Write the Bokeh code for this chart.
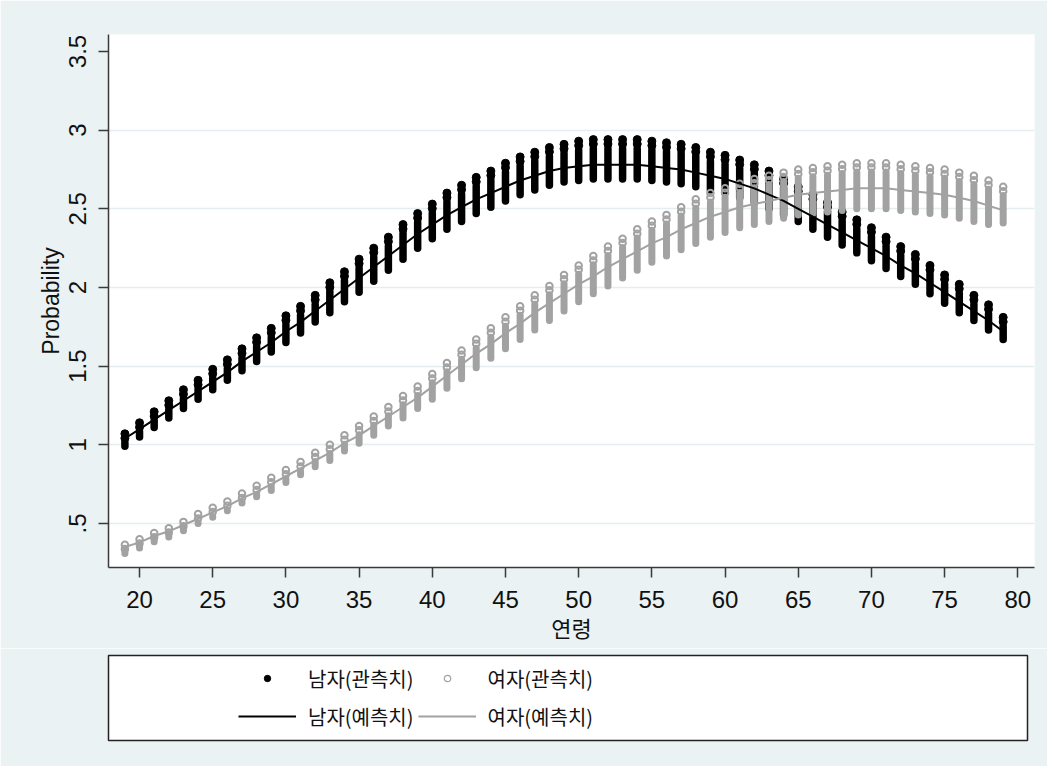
from bokeh.plotting import figure
from bokeh.models import Range1d, FixedTicker, ColumnDataSource, Legend, LegendItem
from bokeh.layouts import column
from bokeh.embed import file_html
from bokeh.resources import INLINE

# ---------------- data ----------------
ages = list(range(19, 80))

male_pred = [1.04, 1.10, 1.16, 1.22, 1.28, 1.34, 1.40, 1.46, 1.53, 1.59,
             1.65, 1.72, 1.78, 1.85, 1.92, 1.99, 2.06, 2.13, 2.20, 2.27,
             2.34, 2.40, 2.46, 2.51, 2.56, 2.60, 2.64, 2.68, 2.71, 2.74,
             2.76, 2.77, 2.78, 2.78, 2.78, 2.78, 2.77, 2.76, 2.75, 2.73,
             2.71, 2.69, 2.66, 2.63, 2.59, 2.55, 2.50, 2.45, 2.40, 2.35,
             2.30, 2.25, 2.20, 2.14, 2.09, 2.03, 1.97, 1.91, 1.85, 1.79, 1.72]
male_hi = [1.07, 1.14, 1.21, 1.28, 1.35, 1.41, 1.48, 1.54, 1.61, 1.68,
           1.74, 1.82, 1.88, 1.95, 2.03, 2.10, 2.18, 2.25, 2.32, 2.40,
           2.47, 2.53, 2.60, 2.65, 2.70, 2.74, 2.79, 2.83, 2.86, 2.89,
           2.91, 2.93, 2.94, 2.94, 2.94, 2.94, 2.93, 2.92, 2.91, 2.89,
           2.86, 2.84, 2.81, 2.78, 2.74, 2.69, 2.64, 2.59, 2.54, 2.48,
           2.43, 2.38, 2.32, 2.26, 2.21, 2.14, 2.08, 2.02, 1.95, 1.89, 1.81]
male_lo = [0.99, 1.05, 1.11, 1.17, 1.23, 1.29, 1.35, 1.41, 1.47, 1.53,
           1.59, 1.65, 1.71, 1.78, 1.84, 1.91, 1.97, 2.04, 2.11, 2.18,
           2.25, 2.31, 2.37, 2.42, 2.47, 2.51, 2.55, 2.59, 2.62, 2.65,
           2.67, 2.68, 2.69, 2.69, 2.69, 2.69, 2.68, 2.67, 2.66, 2.64,
           2.62, 2.60, 2.57, 2.54, 2.50, 2.46, 2.42, 2.37, 2.32, 2.27,
           2.22, 2.17, 2.12, 2.07, 2.02, 1.96, 1.90, 1.84, 1.79, 1.73, 1.67]

female_pred = [0.35, 0.38, 0.42, 0.45, 0.49, 0.53, 0.57, 0.61, 0.66, 0.70,
               0.75, 0.80, 0.85, 0.90, 0.95, 1.01, 1.06, 1.12, 1.18, 1.24,
               1.30, 1.37, 1.44, 1.51, 1.58, 1.64, 1.71, 1.77, 1.84, 1.90,
               1.96, 2.02, 2.07, 2.13, 2.18, 2.23, 2.28, 2.32, 2.37, 2.41,
               2.45, 2.48, 2.51, 2.53, 2.55, 2.57, 2.59, 2.60, 2.61, 2.62,
               2.63, 2.63, 2.63, 2.62, 2.61, 2.60, 2.59, 2.57, 2.55, 2.52, 2.49]
female_hi = [0.365, 0.40, 0.44, 0.47, 0.51, 0.56, 0.60, 0.64, 0.69, 0.74,
             0.79, 0.84, 0.89, 0.95, 1.00, 1.06, 1.12, 1.18, 1.24, 1.31,
             1.37, 1.45, 1.52, 1.60, 1.67, 1.74, 1.81, 1.88, 1.95, 2.01,
             2.08, 2.14, 2.20, 2.26, 2.31, 2.37, 2.42, 2.46, 2.51, 2.56,
             2.60, 2.63, 2.66, 2.69, 2.71, 2.73, 2.75, 2.76, 2.77, 2.78,
             2.79, 2.79, 2.79, 2.78, 2.77, 2.76, 2.75, 2.73, 2.71, 2.68, 2.64]
female_lo = [0.33, 0.36, 0.40, 0.43, 0.47, 0.50, 0.54, 0.58, 0.63, 0.67,
             0.71, 0.76, 0.81, 0.86, 0.90, 0.96, 1.01, 1.06, 1.12, 1.17,
             1.23, 1.29, 1.36, 1.42, 1.49, 1.55, 1.61, 1.67, 1.73, 1.79,
             1.85, 1.91, 1.96, 2.01, 2.06, 2.11, 2.16, 2.20, 2.24, 2.28,
             2.32, 2.35, 2.38, 2.40, 2.42, 2.44, 2.46, 2.47, 2.48, 2.49,
             2.50, 2.50, 2.50, 2.49, 2.48, 2.47, 2.46, 2.44, 2.42, 2.40, 2.41]

y_ticks = [0.5, 1.0, 1.5, 2.0, 2.5, 3.0, 3.5]
y_tick_labels = [".5", "1", "1.5", "2", "2.5", "3", "3.5"]
y_grid = [0.5, 1.0, 1.5, 2.0, 2.5, 3.0]
x_ticks = [20, 25, 30, 35, 40, 45, 50, 55, 60, 65, 70, 75, 80]

labels = ["남자(관측치)", "여자(관측치)", "남자(예측치)", "여자(예측치)"]
x_title = "연령"
y_title = "Probability"

# ---------------- styles ----------------
BG = "#EAF2F3"
GRID = "#E4EDEF"
GRAY = "#A2A2A2"
AXIS = "#3A3A3A"
LATIN = "Liberation Sans"
KR = "Noto Sans CJK KR"
STEP = 0.028  # spacing of the stacked markers drawn on top of each column

src = ColumnDataSource(dict(
    age=ages, mp=male_pred, mh=male_hi, ml=male_lo,
    fp=female_pred, fh=female_hi, fl=female_lo,
    mh2=[h - STEP for h in male_hi], ms=[h - 2 * STEP for h in male_hi],
    fh2=[h - STEP for h in female_hi], fs=[h - 2 * STEP for h in female_hi]))

p = figure(frame_width=926, frame_height=533,
           min_border_left=101, min_border_right=20,
           min_border_top=34, min_border_bottom=81,
           x_range=Range1d(17.88, 81.14), y_range=Range1d(0.22, 3.608),
           output_backend="svg", toolbar_location=None,
           background_fill_color="white", border_fill_color=BG)
p.outline_line_color = None
p.xgrid.visible = False
p.ygrid.ticker = FixedTicker(ticks=y_grid)
p.ygrid.grid_line_color = GRID
p.ygrid.grid_line_width = 1.5

for ax in (p.xaxis[0], p.yaxis[0]):
    ax.axis_line_color = AXIS
    ax.axis_line_width = 1.5
    ax.major_tick_line_color = AXIS
    ax.major_tick_line_width = 1.5
    ax.major_tick_out = 10
    ax.major_tick_in = 0
    ax.minor_tick_line_color = None
    ax.major_label_text_font = LATIN
    ax.major_label_text_font_size = "24px"
    ax.major_label_text_color = "#111111"
    ax.axis_label_text_font_style = "normal"
    ax.axis_label_text_color = "#111111"

p.xaxis.ticker = FixedTicker(ticks=x_ticks)
p.xaxis.major_label_standoff = 13
p.xaxis.axis_label = x_title
p.xaxis.axis_label_text_font = KR
p.xaxis.axis_label_text_font_size = "22px"
p.xaxis.axis_label_standoff = 0

p.yaxis.ticker = FixedTicker(ticks=y_ticks)
p.yaxis.major_label_overrides = {t: l for t, l in zip(y_ticks, y_tick_labels)}
p.yaxis.major_label_orientation = "vertical"
p.yaxis.major_label_standoff = 12
p.yaxis.axis_label = y_title
p.yaxis.axis_label_text_font = LATIN
p.yaxis.axis_label_text_font_size = "23px"
p.yaxis.axis_label_standoff = 3

# observed: men (filled black dots stacked into columns)
p.segment(x0="age", y0="ml", x1="age", y1="ms", source=src,
          line_color="black", line_width=7.5, line_cap="round")
p.scatter(x="age", y="mh", source=src, marker="circle", size=8,
          fill_color="black", line_color="black")
p.scatter(x="age", y="mh2", source=src, marker="circle", size=8,
          fill_color="black", line_color="black")
# observed: women (hollow gray circles stacked into columns)
p.segment(x0="age", y0="fl", x1="age", y1="fs", source=src,
          line_color=GRAY, line_width=7, line_cap="round")
p.scatter(x="age", y="fh", source=src, marker="circle", size=6.5,
          fill_alpha=0, line_color=GRAY, line_width=2)
p.scatter(x="age", y="fh2", source=src, marker="circle", size=6.5,
          fill_alpha=0, line_color=GRAY, line_width=2)
# predicted
p.line(x="age", y="mp", source=src, line_color="black", line_width=2)
p.line(x="age", y="fp", source=src, line_color=GRAY, line_width=2)

# ---------------- legend panel ----------------
lf = figure(frame_width=919, frame_height=85,
            min_border_left=108, min_border_right=20,
            min_border_top=7, min_border_bottom=26,
            x_range=Range1d(0, 1), y_range=Range1d(0, 1),
            x_axis_location=None, y_axis_location=None,
            output_backend="svg", toolbar_location=None,
            background_fill_color="white", border_fill_color=BG)
lf.grid.visible = False
lf.outline_line_color = "#222222"
lf.outline_line_width = 1.5

nan = float("nan")
proxy = ColumnDataSource(dict(x=[nan], y=[nan]))
r_mo = lf.scatter(x="x", y="y", source=proxy, marker="circle", size=7,
                  fill_color="black", line_color="black")
r_fo = lf.scatter(x="x", y="y", source=proxy, marker="circle", size=5,
                  fill_alpha=0, line_color=GRAY, line_width=1.2)
r_mp = lf.line(x="x", y="y", source=proxy, line_color="black", line_width=2)
r_fp = lf.line(x="x", y="y", source=proxy, line_color=GRAY, line_width=2)

legend = Legend(items=[LegendItem(label=labels[0], renderers=[r_mo]),
                       LegendItem(label=labels[1], renderers=[r_fo]),
                       LegendItem(label=labels[2], renderers=[r_mp]),
                       LegendItem(label=labels[3], renderers=[r_fp])],
                location=(130, 7), orientation="horizontal", nrows=2,
                glyph_width=58, glyph_height=16, label_height=34,
                label_standoff=12, spacing=4, padding=0, margin=0,
                border_line_color=None, background_fill_alpha=0,
                label_text_font=KR, label_text_font_size="20px",
                label_text_color="#111111")
lf.add_layout(legend)

layout = column(p, lf, spacing=0)
open("out.html", "w").write(file_html(layout, INLINE))
